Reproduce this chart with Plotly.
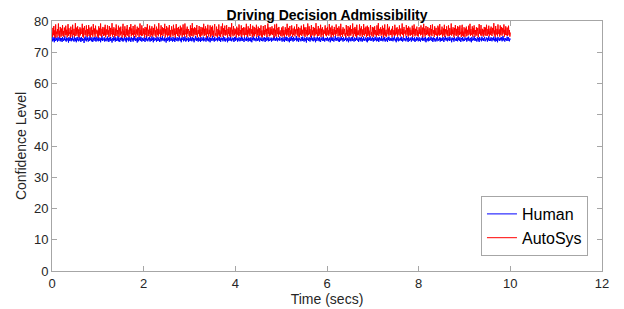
import plotly.graph_objects as go

# Values (hand-estimated samples, 0.01 s apart)
human = [
74.2,73.5,74.9,73.8,74.4,73.2,75.0,74.1,73.6,74.7,73.9,74.3,73.4,74.8,74.0,73.7,75.2,74.2,73.5,74.6,
73.8,74.5,73.3,74.9,74.1,73.6,74.4,73.9,75.1,73.7,74.2,73.4,74.7,74.0,73.8,74.6,73.1,74.8,74.3,73.6,
74.9,74.0,73.5,74.5,73.9,75.3,73.7,74.2,73.4,74.8,74.1,73.6,74.6,73.2,74.4,74.9,73.8,74.1,73.5,75.0,
74.3,73.7,74.6,73.3,74.9,74.0,73.6,74.5,73.9,74.2,73.0,74.7,74.1,73.8,75.1,73.5,74.4,73.9,74.8,73.4,
74.0,74.6,73.7,75.2,73.9,74.3,73.5,74.8,74.1,73.3,74.5,73.8,74.9,74.2,73.6,74.7,73.4,74.0,75.0,73.8,
74.4,73.5,74.9,74.1,73.7,74.6,73.2,74.3,73.9,75.3,73.6,74.5,74.0,73.8,74.8,73.4,74.2,73.7,74.6,74.1,
73.5,75.0,73.9,74.4,73.3,74.7,74.0,73.6,74.9,73.8,74.2,73.1,74.6,74.3,73.7,75.1,73.9,74.5,73.4,74.8,
74.1,73.6,74.4,73.8,75.2,73.5,74.7,74.0,73.3,74.5,73.9,74.9,74.2,73.6,74.6,73.4,74.3,73.8,75.0,74.1,
73.7,74.5,73.2,74.8,74.0,73.9,74.6,73.5,75.1,74.2,73.7,74.4,73.3,74.9,74.1,73.8,74.5,73.4,74.7,73.9,
75.2,74.0,73.6,74.6,73.8,74.3,73.1,74.8,74.2,73.5,74.9,73.9,74.4,73.7,75.0,74.1,73.4,74.6,73.8,74.3,
73.6,74.8,74.0,73.3,74.5,73.9,75.3,73.7,74.2,73.5,74.7,74.1,73.8,74.9,73.4,74.4,74.0,73.6,75.1,73.9,
74.5,73.2,74.8,74.1,73.7,74.6,73.9,74.3,73.4,75.0,74.0,73.6,74.7,73.8,74.2,73.3,74.9,74.1,73.5,74.6,
73.9,75.2,73.7,74.4,74.0,73.5,74.8,73.8,74.3,73.1,74.6,74.2,73.6,74.9,73.9,74.5,73.4,75.1,74.0,73.7,
74.7,73.8,74.2,73.4,74.9,74.1,73.6,74.5,73.3,75.0,73.9,74.3,73.7,74.8,74.0,73.5,74.6,73.8,75.3,74.2,
73.6,74.4,73.2,74.7,74.1,73.9,74.9,73.5,74.3,73.8,75.1,74.0,73.4,74.6,73.7,74.2,73.9,74.8,73.3,74.5,
74.1,73.6,75.0,73.8,74.4,73.5,74.9,74.2,73.7,74.6,73.2,74.3,73.9,75.2,74.0,73.6,74.7,73.8,74.5,73.4,
74.8,74.1,73.7,74.5,73.3,74.9,74.0,73.6,74.4,73.9,75.0,73.5,74.2,73.8,74.7,74.1,73.4,74.6,73.9,75.1,
73.7,74.3,73.5,74.8,74.0,73.2,74.6,73.9,74.4,73.6,75.3,74.1,73.8,74.5,73.4,74.9,74.2,73.7,74.3,73.9,
74.6,73.5,74.9,74.1,73.8,75.0,73.6,74.4,73.3,74.7,74.0,73.9,74.5,73.5,75.2,74.2,73.7,74.8,73.4,74.3,
74.0,73.8,74.6,73.2,74.9,74.1,73.6,74.4,73.9,75.1,73.7,74.2,73.5,74.7,74.0,73.8,74.5,73.3,74.9,74.2,
73.6,75.0,74.0,73.9,74.6,73.4,74.3,73.8,74.8,74.1,73.5,74.5,73.7,75.2,74.0,73.6,74.7,73.9,74.2,73.3,
74.9,74.1,73.8,74.4,73.6,75.0,73.9,74.3,73.4,74.7,74.2,73.7,74.6,73.5,74.8,74.0,73.2,74.5,73.9,75.1,
74.2,73.7,74.6,73.9,74.3,73.5,74.9,74.1,73.6,74.4,73.8,75.3,74.0,73.4,74.7,73.9,74.2,73.6,74.8,74.1,
73.5,74.5,73.8,74.9,74.2,73.3,74.6,74.0,73.7,75.0,73.9,74.4,73.5,74.8,74.1,73.6,74.3,73.9,74.7,73.4,
74.5,74.0,73.7,74.8,73.9,75.2,74.2,73.6,74.4,73.8,74.9,74.1,73.5,74.6,73.9,74.3,73.7,75.0,74.2,73.8,
73.9,74.6,73.4,74.2,74.8,73.7,74.1,73.3,74.9,74.4,73.8,75.0,73.6,74.3,74.7,73.5,74.0,74.5,73.2,74.8,
74.3,73.6,75.1,74.0,73.8,74.6,73.4,74.9,74.2,73.7,74.5,73.9,74.1,75.2,73.5,74.4,73.8,74.7,73.3,74.0,
74.6,73.9,74.2,73.5,74.8,74.1,73.6,75.0,73.8,74.3,73.4,74.7,74.0,73.7,74.5,73.1,74.9,74.2,73.9,74.4,
73.6,74.8,74.1,73.4,74.5,73.9,75.3,74.0,73.7,74.6,73.5,74.2,74.9,73.8,74.3,73.2,74.7,74.1,73.6,75.0,
74.2,73.8,74.6,73.5,74.9,74.0,73.3,74.4,73.9,74.8,74.1,73.6,75.1,73.7,74.3,73.4,74.6,74.2,73.8,74.5,
73.7,74.9,74.0,73.5,74.4,73.9,74.7,73.2,74.2,75.0,73.8,74.5,73.6,74.8,74.1,73.4,74.3,73.9,75.2,74.0,
73.6,74.6,74.2,73.8,74.9,73.5,74.1,73.3,74.7,74.4,73.7,75.0,74.0,73.9,74.5,73.4,74.8,74.2,73.6,74.3,
73.9,75.1,74.1,73.5,74.6,73.8,74.2,73.2,74.9,74.0,73.7,74.4,73.5,74.8,74.3,73.6,75.0,73.9,74.1,73.4,
74.7,74.0,73.6,74.5,73.9,75.2,74.2,73.7,74.3,73.3,74.8,74.1,73.8,74.6,73.5,74.9,74.0,73.4,74.4,73.9,
75.0,73.6,74.2,73.8,74.7,74.1,73.5,74.5,73.2,74.9,74.3,73.7,74.6,73.9,75.1,74.0,73.6,74.4,73.8,74.8,
74.1,73.4,74.6,74.0,73.7,75.0,73.9,74.3,73.5,74.8,74.2,73.6,74.5,73.3,74.9,74.1,73.8,74.4,73.6,75.2,
73.9,74.3,73.5,74.7,74.0,73.8,74.9,73.4,74.2,73.7,74.6,74.1,73.3,74.8,73.9,75.0,74.2,73.6,74.5,73.8,
74.4,73.7,74.8,74.0,73.5,74.6,73.9,75.1,74.1,73.6,74.3,73.2,74.7,74.0,73.8,74.9,73.5,74.4,74.2,73.7,
74.6,73.9,75.0,73.6,74.2,73.4,74.8,74.1,73.7,74.5,73.9,74.3,73.5,75.2,74.0,73.8,74.6,73.3,74.9,74.1,
73.6,74.4,73.9,74.7,73.4,74.2,75.0,73.8,74.5,74.0,73.6,74.8,73.3,74.3,74.1,73.7,74.9,73.9,74.5,73.5,
74.2,74.8,73.7,74.0,73.4,74.6,74.3,73.9,75.1,73.6,74.4,73.8,74.7,74.1,73.5,74.9,73.2,74.3,74.0,73.8,
74.6,73.5,74.9,74.2,73.7,74.4,73.9,75.0,74.1,73.6,74.5,73.3,74.8,74.0,73.8,74.6,73.4,74.2,73.9,74.7,
73.5,75.1,74.0,73.7,74.3,73.9,74.8,73.4,74.6,74.2,73.6,74.5,73.8,74.9,74.1,73.3,74.4,73.9,75.2,74.0,
73.7,74.6,74.3,73.5,74.8,73.9,74.2,73.6,75.0,74.1,73.8,74.4,73.2,74.7,74.0,73.9,74.5,73.4,74.9,74.2,
73.8,74.3,73.6,74.7,74.1,73.5,75.1,73.9,74.4,73.7,74.8,74.0,73.3,74.6,74.2,73.8,74.9,73.5,74.3,74.0,
73.6,74.8,74.2,73.9,74.5,73.4,74.7,74.1,73.7,75.0,73.8,74.3,73.5,74.6,74.0,73.2,74.9,74.2,73.7,74.4,
73.9,75.2,74.0,73.6,74.5,73.8,74.2,73.4,74.8,74.1,73.7,74.6,73.3,74.9,74.0,73.9,74.4,73.5,75.0,74.2,
73.8,74.5,73.6,74.3,74.9,73.5,74.1,73.9,74.7,74.2,73.4,74.6,73.8,75.1,74.0,73.6,74.4,73.7,74.8,74.1,
73.5,74.6,74.0,73.9,75.0,73.7,74.3,73.4,74.8,74.2,73.6,74.5,73.2,74.9,74.1,73.8,74.4,73.6,74.7,74.0,
73.9,74.8,73.5,74.2,75.2,73.8,74.6,74.1,73.4,74.5,73.9,74.3,73.7,75.0,74.0,73.6,74.8,74.2,73.5,74.4,
74.1
]

autosys = [
76.3,74.9,77.8,75.5,78.4,75.1,77.0,74.6,78.9,75.8,76.6,74.8,77.4,75.9,79.2,75.3,76.9,74.7,78.1,76.2,
75.0,77.6,75.7,78.7,75.2,76.8,74.9,77.9,76.1,75.4,78.5,75.6,77.2,74.8,76.5,79.0,75.3,77.7,75.9,76.4,
74.7,78.2,75.8,77.1,75.0,78.8,76.3,75.5,77.5,74.9,76.7,79.3,75.2,77.9,75.7,76.0,78.3,75.1,77.3,74.8,
76.6,78.0,75.4,77.6,75.9,76.2,79.1,75.0,77.8,74.7,76.9,78.4,75.6,77.0,75.3,78.6,76.1,74.9,77.4,75.8,
78.7,75.2,76.5,77.9,74.8,76.8,78.2,75.5,77.1,75.0,79.0,76.3,75.7,77.6,74.9,78.5,75.9,76.4,77.2,75.1,
76.9,74.7,78.3,75.6,77.7,75.3,79.2,76.0,74.9,77.5,75.8,78.1,75.2,76.7,77.9,75.4,78.8,74.8,76.2,77.3,
75.5,78.6,75.9,77.0,74.9,78.4,76.5,75.1,77.8,75.7,76.3,79.3,75.0,77.4,75.6,78.0,76.1,74.8,77.6,75.3,
78.9,76.4,75.2,77.1,75.8,78.5,74.9,76.8,77.9,75.4,78.2,75.9,76.6,74.7,77.7,79.1,75.5,76.9,75.0,78.3,
76.0,74.8,77.5,75.6,78.7,75.3,77.2,76.2,74.9,78.0,75.8,76.7,79.0,75.1,77.6,75.5,76.3,78.4,75.0,77.0,
75.7,78.8,76.1,74.8,77.3,75.9,78.2,75.4,76.8,77.8,74.9,76.5,79.2,75.6,77.1,75.2,78.6,76.0,75.3,77.7,
75.8,77.4,74.7,78.1,76.3,75.5,77.9,75.0,79.0,76.6,75.2,77.2,75.9,78.5,74.9,76.9,77.6,75.4,78.3,76.1,
75.0,77.8,75.7,76.4,78.9,75.3,77.0,74.8,78.2,76.2,75.6,77.5,75.1,79.3,76.0,75.8,77.3,74.9,78.6,75.5,
76.7,78.0,75.2,77.7,75.9,76.3,79.1,74.8,77.4,75.6,78.4,76.1,75.0,77.9,75.4,76.8,78.7,75.3,77.1,74.9,
76.5,78.3,75.7,77.2,75.1,78.8,76.0,75.5,77.6,74.7,76.9,79.0,75.8,77.8,75.2,76.4,78.1,75.0,77.3,75.9,
78.5,75.4,76.6,77.9,74.9,76.2,78.9,75.6,77.0,75.1,79.2,76.3,75.7,77.5,74.8,78.2,75.9,76.7,77.4,75.3,
76.8,74.9,78.6,75.5,77.7,75.2,79.3,76.1,75.0,77.6,75.8,78.0,75.4,76.5,77.8,75.6,78.7,74.8,76.3,77.1,
75.9,78.4,75.1,77.3,74.9,78.1,76.6,75.3,77.9,75.7,76.0,79.1,75.2,77.5,75.5,78.3,76.2,74.7,77.6,75.8,
78.8,76.4,75.0,77.2,75.9,78.6,74.8,76.7,78.0,75.3,78.5,75.6,76.9,74.9,77.8,79.0,75.4,76.1,75.1,78.2,
76.3,74.8,77.4,75.7,78.9,75.2,77.0,76.5,74.9,78.3,75.8,76.6,79.2,75.0,77.7,75.5,76.2,78.5,75.3,77.1,
75.6,78.7,76.0,74.8,77.5,75.9,78.1,75.2,76.8,77.9,74.9,76.4,79.3,75.7,77.2,75.1,78.4,76.1,75.4,77.6,
75.9,77.3,74.8,78.2,76.5,75.6,77.8,75.1,78.9,76.7,75.3,77.1,75.8,78.6,74.9,76.8,77.7,75.5,78.0,76.2,
75.0,77.9,75.6,76.3,79.1,75.4,77.2,74.9,78.3,76.0,75.7,77.6,75.2,79.0,76.1,75.9,77.4,74.8,78.5,75.3,
76.6,78.1,75.1,77.8,75.8,76.4,78.8,74.9,77.3,75.5,78.2,76.0,75.2,77.7,75.4,76.9,78.6,75.0,77.0,74.8,
76.2,78.4,75.6,77.1,75.3,78.7,76.3,75.7,77.5,74.9,76.7,79.2,75.9,77.9,75.1,76.5,78.0,75.4,77.4,75.8,
78.3,75.5,76.8,77.6,74.7,76.1,78.9,75.3,77.2,75.0,79.1,76.4,75.8,77.8,74.9,78.1,75.7,76.6,77.0,75.2,
75.6,77.9,75.0,76.8,78.3,75.4,77.1,74.8,76.5,78.0,75.7,77.4,75.2,79.1,76.2,75.5,77.8,74.9,76.9,78.4,
75.3,77.0,75.8,78.6,76.1,74.9,77.6,75.5,76.4,78.2,75.1,77.3,75.9,76.7,79.0,75.4,77.5,75.0,78.1,76.3,
74.8,77.7,75.6,76.9,78.5,75.2,77.2,75.8,76.0,78.9,75.3,77.9,74.9,76.6,78.0,75.7,77.1,75.1,79.2,76.4,
75.5,78.3,75.9,77.4,74.8,76.8,78.7,75.3,77.0,75.6,78.1,76.2,75.0,77.8,75.4,76.5,79.3,75.8,77.3,75.1,
76.7,78.4,75.2,77.6,75.7,76.1,78.8,74.9,77.5,75.5,78.0,76.3,75.0,77.2,75.9,76.9,78.6,75.4,77.7,75.1,
76.4,78.2,75.6,77.0,75.3,79.0,76.0,75.8,77.9,74.8,76.6,78.5,75.5,77.4,75.0,76.8,78.1,75.7,77.1,75.2,
78.9,75.9,76.3,77.8,75.1,76.5,78.3,75.4,77.6,75.0,79.1,76.2,75.6,77.3,74.9,78.0,75.8,76.7,77.5,75.3,
76.1,74.8,78.7,75.7,77.2,75.2,78.4,76.4,75.0,77.9,75.5,78.6,75.3,76.8,77.4,75.9,79.2,74.9,76.0,77.7,
75.8,78.1,75.2,77.5,74.8,78.8,76.5,75.4,77.0,75.6,76.2,78.9,75.1,77.6,75.7,78.3,76.0,74.9,77.3,75.5,
79.0,76.3,75.3,77.8,75.9,78.2,74.8,76.6,78.5,75.2,78.0,75.7,76.9,75.0,77.4,78.7,75.6,76.4,75.1,78.1,
76.2,74.9,77.9,75.8,78.3,75.4,77.1,76.6,75.0,78.6,75.5,76.8,79.3,75.2,77.5,75.9,76.1,78.0,75.3,77.3,
75.7,78.5,76.0,74.8,77.8,75.6,78.9,75.1,76.7,77.2,75.0,76.3,79.0,75.8,77.6,75.3,78.2,76.4,75.5,77.0,
75.6,77.5,74.9,78.4,76.2,75.7,77.1,75.2,78.8,76.5,75.4,77.7,75.9,78.0,75.0,76.9,77.3,75.6,78.6,76.0,
75.1,77.6,75.8,76.6,79.2,75.5,77.4,74.8,78.1,76.1,75.9,77.0,75.3,78.7,76.3,75.7,77.8,75.0,78.3,75.4,
76.8,77.9,75.3,77.2,75.6,76.4,78.5,74.9,77.7,75.8,78.9,76.2,75.1,77.5,75.5,76.7,78.2,75.2,77.0,75.0,
76.6,78.0,75.9,77.3,75.4,78.6,76.1,75.6,77.9,74.8,76.5,79.1,75.7,77.6,75.0,76.3,78.4,75.5,77.2,75.8,
78.1,75.3,76.9,77.7,75.0,76.2,78.7,75.6,77.4,75.2,78.9,76.5,75.9,77.1,74.9,78.3,75.5,76.8,77.8,75.4,
76.0,75.1,78.5,75.7,77.9,75.3,79.0,76.3,75.5,77.2,75.8,78.2,75.0,76.6,77.6,75.4,78.8,74.9,76.4,77.4,
75.9,78.3,75.4,77.0,75.1,78.6,76.7,75.2,77.7,75.6,76.1,79.2,75.3,77.3,75.8,78.0,76.2,74.8,77.8,75.5,
78.7,76.3,75.2,77.5,75.7,78.4,75.0,76.9,78.1,75.5,78.6,75.8,76.4,74.9,77.9,78.8,75.3,76.6,75.0,78.0,
76.5,74.9,77.6,75.9,78.2,75.1,77.2,76.0,75.4,78.5,75.7,76.8,79.1,75.2,77.4,75.6,76.3,78.3,75.0,77.7,
75.8,78.6,76.2,75.0,77.1,75.6,78.0,75.3,76.7,77.8,74.8,76.5,79.0,75.9,77.3,75.4,78.7,76.1,75.2,77.5,
75.7,77.2,75.0,78.1,76.4,75.5,77.9,75.2,78.8,76.6,75.3,77.4,75.8,78.5,75.1,76.9,77.6,75.6,78.2,76.0,
75.2,77.8,75.9,76.5,79.3,75.4,77.0,74.9,78.4,76.2,75.7,77.5,75.1,78.9,76.1,75.8,77.3,75.0,78.6,75.6,
76.7,78.1,75.3,77.7,75.9,76.4,78.9,75.0,77.2,75.5,78.3,76.0,75.4,77.9,75.2,76.8,78.5,75.6,77.1,75.0,
76.3
]

time = [i * 0.01 for i in range(len(human))]

x_ticks = [0, 2, 4, 6, 8, 10, 12]
y_ticks = [0, 10, 20, 30, 40, 50, 60, 70, 80]

FONT = "Liberation Sans, Arial"

fig = go.Figure()
fig.add_trace(go.Scatter(x=time, y=human, mode="lines", name="Human",
                         line=dict(color="#0000ff", width=1, simplify=False)))
fig.add_trace(go.Scatter(x=time, y=autosys, mode="lines", name="AutoSys",
                         line=dict(color="#ff0000", width=1, simplify=False)))

axis_common = dict(showline=True, linecolor="#a6a6a6", linewidth=1, mirror="ticks",
                   ticks="inside", ticklen=5, tickcolor="#a6a6a6",
                   showgrid=False, zeroline=False, automargin=False,
                   tickfont=dict(family=FONT, size=13, color="#262626"))

# page body adds an 8px offset, so the figure is 616x301 with shifted margins
fig.update_layout(
    width=616, height=301,
    margin=dict(l=44, r=22, t=13, b=38),
    paper_bgcolor="white", plot_bgcolor="white",
    title=dict(text="<b>Driving Decision Admissibility</b>", x=0.518, xanchor="center",
               y=0.993, yanchor="top", automargin=False,
               font=dict(family=FONT, size=14, color="#000000")),
    xaxis=dict(range=[0, 12], tickvals=x_ticks, ticktext=[str(v) for v in x_ticks],
               title=dict(text="Time (secs)", standoff=0,
                          font=dict(family=FONT, size=14, color="#262626")),
               **axis_common),
    yaxis=dict(range=[0, 80], tickvals=y_ticks, ticktext=[str(v) for v in y_ticks],
               title=dict(text="Confidence Level", standoff=4,
                          font=dict(family=FONT, size=14, color="#262626")),
               **axis_common),
    legend=dict(x=0.9745, y=0.06, xanchor="right", yanchor="bottom",
                bordercolor="#a6a6a6", borderwidth=1, bgcolor="white",
                font=dict(family=FONT, size=16, color="#000000"),
                tracegroupgap=0, itemwidth=30),
    showlegend=True,
)

fig.write_html("out.html")
